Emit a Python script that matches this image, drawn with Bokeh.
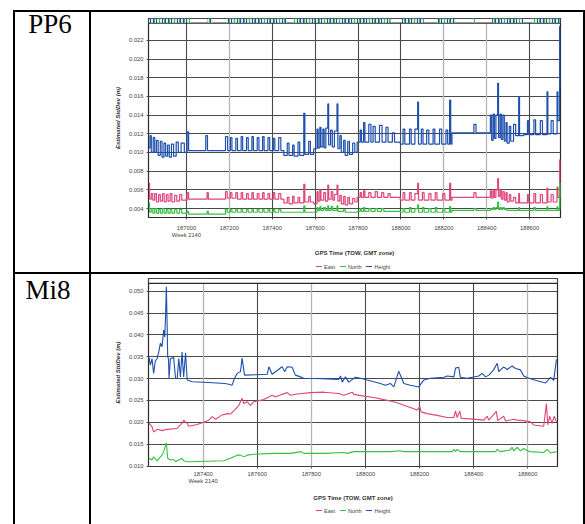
from bokeh.plotting import figure
from bokeh.models import Div, FixedTicker, PrintfTickFormatter, Range1d, Grid
from bokeh.layouts import column, row
from bokeh.embed import file_html
from bokeh.resources import INLINE

# ---------------- data: PP6 ----------------
pp6_xticks = [187000, 187200, 187400, 187600, 187800, 188000, 188200, 188400, 188600]
pp6_yticks = [0.004, 0.006, 0.008, 0.010, 0.012, 0.014, 0.016, 0.018, 0.020, 0.022]

pp6_height_t = [186824, 186830, 186836, 186845, 186852, 186860, 186868, 186878, 186886, 186895,
                186903, 186912, 186920, 186930, 186940, 186952, 186962, 186975, 186990, 187003,
                187010, 187090, 187098, 187182, 187192, 187205, 187212, 187230, 187238, 187255,
                187262, 187280, 187288, 187305, 187312, 187330, 187338, 187355, 187362, 187380,
                187388, 187405, 187412, 187430, 187440, 187454, 187470, 187478, 187495, 187502,
                187520, 187528, 187547, 187552, 187570, 187578, 187593, 187609, 187614, 187622,
                187627, 187636, 187642, 187650, 187659, 187663, 187672, 187680, 187690, 187702,
                187706, 187715, 187722, 187733, 187740, 187752, 187760, 187775, 187785, 187796,
                187810, 187816, 187826, 187832, 187850, 187860, 187870, 187880, 187900, 187912,
                187930, 187940, 187960, 187970, 187997, 188010, 188018, 188040, 188048, 188065,
                188078, 188082, 188095, 188103, 188120, 188130, 188150, 188158, 188180, 188190,
                188210, 188218, 188227, 188232, 188238, 188340, 188350, 188417, 188423, 188430,
                188436, 188443, 188451, 188455, 188462, 188468, 188475, 188482, 188490, 188495,
                188505, 188512, 188525, 188535, 188549, 188553, 188572, 188590, 188596, 188620,
                188628, 188650, 188660, 188681, 188685, 188700, 188710, 188728, 188732, 188740,
                188743]
pp6_height_v = [0.0105, 0.0118, 0.0100, 0.0116, 0.0100, 0.0113, 0.0097, 0.0112, 0.0095, 0.0110,
                0.0096, 0.0108, 0.0095, 0.0109, 0.0096, 0.0111, 0.0100, 0.0110, 0.0100, 0.0122,
                0.0102, 0.0118, 0.0102, 0.0117, 0.0102, 0.0116, 0.0102, 0.0115, 0.0102, 0.0117,
                0.0102, 0.0116, 0.0102, 0.0117, 0.0102, 0.0116, 0.0102, 0.0117, 0.0102, 0.0116,
                0.0102, 0.0115, 0.0102, 0.0116, 0.0102, 0.0097, 0.0110, 0.0097, 0.0108, 0.0096,
                0.0111, 0.0097, 0.0142, 0.0098, 0.0112, 0.0098, 0.0104, 0.0125, 0.0105, 0.0127,
                0.0106, 0.0125, 0.0105, 0.0126, 0.0152, 0.0108, 0.0124, 0.0106, 0.0123, 0.0152,
                0.0104, 0.0118, 0.0100, 0.0113, 0.0097, 0.0112, 0.0098, 0.0110, 0.0100, 0.0111,
                0.0124, 0.0111, 0.0132, 0.0111, 0.0130, 0.0111, 0.0128, 0.0111, 0.0129, 0.0111,
                0.0127, 0.0111, 0.0121, 0.0111, 0.0109, 0.0125, 0.0109, 0.0125, 0.0109, 0.0125,
                0.0154, 0.0109, 0.0125, 0.0109, 0.0124, 0.0109, 0.0125, 0.0109, 0.0125, 0.0109,
                0.0124, 0.0109, 0.0156, 0.0109, 0.0121, 0.0130, 0.0121, 0.0140, 0.0113, 0.0141,
                0.0115, 0.0140, 0.0174, 0.0116, 0.0141, 0.0114, 0.0140, 0.0112, 0.0132, 0.0110,
                0.0128, 0.0112, 0.0130, 0.0118, 0.0159, 0.0118, 0.0119, 0.0134, 0.0119, 0.0135,
                0.0119, 0.0134, 0.0119, 0.0165, 0.0120, 0.0134, 0.0120, 0.0165, 0.0134, 0.0235,
                0.0170]

pp6_east_t = [186824, 186828, 186836, 186843, 186852, 186860, 186870, 186878, 186888, 186896,
              186906, 186914, 186924, 186932, 186945, 186955, 186968, 186978, 187003, 187010,
              187096, 187102, 187182, 187190, 187205, 187212, 187230, 187238, 187255, 187262,
              187280, 187288, 187305, 187312, 187330, 187338, 187355, 187362, 187380, 187388,
              187405, 187412, 187430, 187440, 187454, 187470, 187478, 187495, 187502, 187520,
              187528, 187547, 187552, 187570, 187578, 187593, 187609, 187614, 187622, 187627,
              187640, 187648, 187659, 187663, 187675, 187682, 187690, 187702, 187706, 187715,
              187722, 187733, 187740, 187752, 187760, 187775, 187785, 187796, 187810, 187816,
              187826, 187832, 187850, 187860, 187880, 187890, 187910, 187920, 187940, 187950,
              187997, 188010, 188018, 188040, 188048, 188065, 188078, 188082, 188100, 188108,
              188130, 188140, 188160, 188168, 188195, 188205, 188227, 188232, 188238, 188340,
              188350, 188417, 188423, 188430, 188436, 188443, 188451, 188455, 188462, 188468,
              188475, 188482, 188490, 188495, 188505, 188512, 188525, 188535, 188549, 188553,
              188590, 188596, 188620, 188628, 188650, 188660, 188681, 188685, 188700, 188710,
              188728, 188732, 188740, 188743]
pp6_east_v = [0.0067, 0.0050, 0.0056, 0.0049, 0.0056, 0.0047, 0.0055, 0.0048, 0.0056, 0.0047,
              0.0055, 0.0048, 0.0056, 0.0047, 0.0054, 0.0048, 0.0055, 0.0049, 0.0057, 0.0050,
              0.0057, 0.0050, 0.0058, 0.0051, 0.0057, 0.0051, 0.0057, 0.0050, 0.0057, 0.0050,
              0.0056, 0.0050, 0.0057, 0.0050, 0.0056, 0.0050, 0.0057, 0.0050, 0.0056, 0.0050,
              0.0057, 0.0050, 0.0056, 0.0050, 0.0046, 0.0052, 0.0045, 0.0053, 0.0046, 0.0052,
              0.0046, 0.0066, 0.0047, 0.0053, 0.0047, 0.0045, 0.0058, 0.0048, 0.0060, 0.0049,
              0.0057, 0.0048, 0.0065, 0.0050, 0.0058, 0.0049, 0.0055, 0.0065, 0.0048, 0.0054,
              0.0045, 0.0053, 0.0044, 0.0052, 0.0045, 0.0051, 0.0047, 0.0052, 0.0057, 0.0052,
              0.0059, 0.0052, 0.0057, 0.0052, 0.0058, 0.0052, 0.0057, 0.0052, 0.0056, 0.0052,
              0.0049, 0.0057, 0.0049, 0.0057, 0.0049, 0.0056, 0.0067, 0.0049, 0.0057, 0.0049,
              0.0056, 0.0049, 0.0057, 0.0049, 0.0056, 0.0049, 0.0067, 0.0049, 0.0052, 0.0057,
              0.0052, 0.0059, 0.0051, 0.0060, 0.0052, 0.0060, 0.0072, 0.0053, 0.0060, 0.0050,
              0.0058, 0.0049, 0.0057, 0.0047, 0.0055, 0.0048, 0.0052, 0.0046, 0.0056, 0.0046,
              0.0055, 0.0046, 0.0056, 0.0046, 0.0055, 0.0046, 0.0062, 0.0047, 0.0055, 0.0047,
              0.0063, 0.0052, 0.0092, 0.0052]

pp6_north_t = [186824, 186828, 186836, 186843, 186852, 186860, 186870, 186878, 186888, 186896,
               186906, 186914, 186924, 186932, 186945, 186955, 186968, 186978, 187003, 187010,
               187096, 187102, 187182, 187190, 187205, 187212, 187230, 187238, 187255, 187262,
               187280, 187288, 187305, 187312, 187330, 187338, 187355, 187362, 187380, 187388,
               187405, 187412, 187430, 187440, 187454, 187547, 187552, 187593, 187609, 187614,
               187622, 187627, 187640, 187648, 187659, 187663, 187675, 187682, 187702, 187706,
               187733, 187740, 187796, 187810, 187816, 187826, 187832, 187850, 187860, 187880,
               187890, 187910, 187920, 187997, 188010, 188018, 188040, 188048, 188065, 188078,
               188082, 188100, 188108, 188130, 188140, 188160, 188168, 188195, 188205, 188227,
               188232, 188238, 188340, 188350, 188417, 188423, 188430, 188436, 188443, 188451,
               188455, 188462, 188468, 188475, 188482, 188490, 188495, 188549, 188553, 188620,
               188628, 188681, 188685, 188728, 188732, 188740, 188743]
pp6_north_v = [0.0046, 0.0036, 0.0040, 0.0035, 0.0040, 0.0035, 0.0039, 0.0035, 0.0040, 0.0035,
               0.0039, 0.0035, 0.0039, 0.0035, 0.0039, 0.0035, 0.0039, 0.0035, 0.0037, 0.0034,
               0.0037, 0.0034, 0.0039, 0.0036, 0.0039, 0.0036, 0.0039, 0.0036, 0.0039, 0.0036,
               0.0039, 0.0036, 0.0039, 0.0036, 0.0039, 0.0036, 0.0039, 0.0036, 0.0039, 0.0036,
               0.0039, 0.0036, 0.0039, 0.0036, 0.0036, 0.0043, 0.0036, 0.0036, 0.0041, 0.0038,
               0.0042, 0.0038, 0.0041, 0.0038, 0.0043, 0.0038, 0.0042, 0.0038, 0.0043, 0.0037,
               0.0039, 0.0036, 0.0037, 0.0040, 0.0037, 0.0041, 0.0037, 0.0040, 0.0037, 0.0040,
               0.0037, 0.0040, 0.0037, 0.0036, 0.0040, 0.0036, 0.0041, 0.0036, 0.0040, 0.0044,
               0.0036, 0.0041, 0.0036, 0.0040, 0.0036, 0.0041, 0.0036, 0.0040, 0.0036, 0.0042,
               0.0036, 0.0038, 0.0040, 0.0038, 0.0040, 0.0039, 0.0041, 0.0039, 0.0041, 0.0047,
               0.0039, 0.0041, 0.0039, 0.0041, 0.0039, 0.0040, 0.0038, 0.0041, 0.0038, 0.0041,
               0.0038, 0.0042, 0.0038, 0.0042, 0.0038, 0.0067, 0.0040]

# satellite-availability strip along the top of the PP6 chart (time spans)
pp6_strip_start = [186829, 187099, 187186, 187497, 188005, 188168, 188336, 188425, 188611]
pp6_strip_end = [187019, 187124, 187469, 187951, 188106, 188249, 188348, 188572, 188740]

# ---------------- data: Mi8 ----------------
mi8_xticks = [187400, 187600, 187800, 188000, 188200, 188400, 188600]
mi8_yticks = [0.010, 0.015, 0.020, 0.025, 0.030, 0.035, 0.040, 0.045, 0.050]

mi8_height_t = [187199, 187205, 187211, 187217, 187223, 187230, 187236, 187242, 187248, 187254,
                187258, 187261, 187264, 187267, 187269, 187272, 187274, 187279, 187291, 187298,
                187304, 187310, 187316, 187322, 187328, 187335, 187341, 187360, 187420, 187480,
                187495, 187507, 187516, 187526, 187538, 187544, 187553, 187600, 187637, 187643,
                187655, 187692, 187701, 187711, 187729, 187741, 187760, 187772, 187840, 187901,
                187908, 187914, 187926, 187938, 187963, 187982, 188006, 188031, 188055, 188074,
                188092, 188105, 188123, 188142, 188166, 188197, 188216, 188240, 188290, 188302,
                188327, 188333, 188345, 188351, 188376, 188419, 188431, 188444, 188456, 188474,
                188487, 188493, 188511, 188524, 188542, 188555, 188573, 188585, 188604, 188635,
                188666, 188684, 188696, 188706]
mi8_height_v = [0.0351, 0.0331, 0.0346, 0.0312, 0.0340, 0.0346, 0.0361, 0.0381, 0.0373, 0.0411,
                0.0395, 0.0441, 0.0510, 0.0420, 0.0350, 0.0345, 0.0301, 0.0346, 0.0348, 0.0301,
                0.0300, 0.0346, 0.0304, 0.0361, 0.0304, 0.0359, 0.0297, 0.0293, 0.0291, 0.0289,
                0.0287, 0.0285, 0.0301, 0.0312, 0.0316, 0.0347, 0.0308, 0.0309, 0.0310, 0.0327,
                0.0310, 0.0327, 0.0316, 0.0327, 0.0326, 0.0308, 0.0304, 0.0301, 0.0300, 0.0298,
                0.0306, 0.0292, 0.0304, 0.0292, 0.0303, 0.0301, 0.0297, 0.0293, 0.0289, 0.0285,
                0.0289, 0.0281, 0.0317, 0.0289, 0.0285, 0.0281, 0.0297, 0.0301, 0.0303, 0.0306,
                0.0304, 0.0324, 0.0326, 0.0303, 0.0301, 0.0306, 0.0312, 0.0304, 0.0308, 0.0320,
                0.0335, 0.0316, 0.0327, 0.0321, 0.0329, 0.0323, 0.0320, 0.0306, 0.0301, 0.0295,
                0.0290, 0.0303, 0.0296, 0.0344]

mi8_east_t = [187199, 187211, 187217, 187230, 187248, 187267, 187304, 187322, 187328, 187341,
              187347, 187378, 187402, 187421, 187433, 187446, 187470, 187489, 187501, 187516,
              187532, 187544, 187550, 187563, 187575, 187587, 187600, 187624, 187643, 187655,
              187667, 187692, 187711, 187723, 187748, 187797, 187846, 187902, 187920, 187951,
              187957, 187994, 188031, 188068, 188092, 188117, 188142, 188166, 188191, 188201,
              188206, 188228, 188265, 188302, 188327, 188333, 188339, 188349, 188354, 188388,
              188438, 188450, 188456, 188484, 188489, 188511, 188518, 188548, 188561, 188585,
              188610, 188622, 188659, 188669, 188674, 188681, 188690, 188698, 188706]
mi8_east_v = [0.0198, 0.0190, 0.0178, 0.0184, 0.0181, 0.0184, 0.0186, 0.0198, 0.0205, 0.0198,
              0.0191, 0.0195, 0.0200, 0.0205, 0.0213, 0.0207, 0.0217, 0.0220, 0.0219, 0.0228,
              0.0239, 0.0255, 0.0243, 0.0247, 0.0239, 0.0247, 0.0249, 0.0252, 0.0258, 0.0262,
              0.0258, 0.0264, 0.0268, 0.0262, 0.0265, 0.0268, 0.0269, 0.0266, 0.0262, 0.0269,
              0.0264, 0.0260, 0.0257, 0.0252, 0.0249, 0.0245, 0.0239, 0.0234, 0.0228, 0.0236,
              0.0224, 0.0220, 0.0216, 0.0211, 0.0211, 0.0226, 0.0211, 0.0226, 0.0209, 0.0208,
              0.0205, 0.0214, 0.0205, 0.0225, 0.0204, 0.0214, 0.0203, 0.0207, 0.0205, 0.0204,
              0.0201, 0.0194, 0.0191, 0.0243, 0.0194, 0.0214, 0.0198, 0.0214, 0.0201]

mi8_north_t = [187199, 187211, 187217, 187230, 187242, 187248, 187254, 187264, 187269, 187279,
               187291, 187298, 187310, 187322, 187328, 187341, 187353, 187476, 187501, 187513,
               187526, 187538, 187550, 187563, 187587, 187661, 187723, 187762, 187772, 187846,
               187920, 187932, 187957, 188092, 188129, 188142, 188216, 188321, 188327, 188333,
               188339, 188351, 188481, 188487, 188499, 188536, 188542, 188548, 188561, 188573,
               188585, 188598, 188610, 188659, 188672, 188684, 188706]
mi8_north_v = [0.0118, 0.0114, 0.0121, 0.0112, 0.0121, 0.0125, 0.0133, 0.0153, 0.0118, 0.0114,
               0.0115, 0.0110, 0.0114, 0.0118, 0.0112, 0.0110, 0.0110, 0.0112, 0.0118, 0.0121,
               0.0125, 0.0125, 0.0121, 0.0125, 0.0127, 0.0129, 0.0129, 0.0133, 0.0129, 0.0129,
               0.0131, 0.0129, 0.0133, 0.0133, 0.0135, 0.0133, 0.0133, 0.0133, 0.0138, 0.0133,
               0.0138, 0.0133, 0.0133, 0.0138, 0.0133, 0.0137, 0.0143, 0.0135, 0.0143, 0.0135,
               0.0140, 0.0135, 0.0133, 0.0131, 0.0138, 0.0130, 0.0133]

series_names = ["East", "North", "Height"]
week_label = "Week 2140"
x_title = "GPS Time (TOW, GMT zone)"
y_title = "Estimated StdDev (m)"

EAST_C = "#e0457b"
NORTH_C = "#35c241"
HEIGHT_C = "#1d4fae"
SERIES_COLORS = [EAST_C, NORTH_C, HEIGHT_C]
FONT = "Liberation Sans"

# vertical grid lines that appear faded in the source image (style only)
pp6_faded_grid = [187200, 188200, 188400]
mi8_faded_grid = [187400, 187800, 188600]


def build_chart(w, h, xr, yr, xticks, yticks, faded, week_tick, mb, tick_standoff, xlab_standoff,
                strip_lo, strip_l, strip_r, series, step):
    p = figure(width=w, height=h, x_range=Range1d(*xr), y_range=Range1d(*yr),
               output_backend="svg", toolbar_location=None,
               min_border_left=mb[0], min_border_right=mb[1],
               min_border_top=mb[2], min_border_bottom=mb[3])
    p.background_fill_color = "white"
    p.border_fill_color = "white"
    p.outline_line_color = "#2a2a2a"
    p.outline_line_width = 1.2
    p.xgrid.ticker = FixedTicker(ticks=[t for t in xticks if t not in faded])
    p.ygrid.ticker = FixedTicker(ticks=yticks)
    p.grid.grid_line_color = "#4a4a4a"
    p.grid.grid_line_width = 1.1
    p.add_layout(Grid(dimension=0, ticker=FixedTicker(ticks=faded),
                      grid_line_color="#b4b4b4", grid_line_width=1.3))

    # top strip
    p.quad(left=[xr[0]], right=[xr[1]], bottom=[strip_lo], top=[yr[1]],
           fill_color="white", line_color="#2a2a2a", line_width=1.2)
    if strip_l:
        p.quad(left=strip_l, right=strip_r, bottom=strip_lo, top=yr[1],
               fill_color="#cfe3e8", fill_alpha=0.6, line_alpha=0,
               hatch_pattern="|", hatch_color=HEIGHT_C, hatch_scale=3, hatch_weight=1)
        p.quad(left=strip_l, right=strip_r, bottom=strip_lo, top=yr[1],
               fill_alpha=0, line_alpha=0,
               hatch_pattern="|", hatch_color=NORTH_C, hatch_scale=5, hatch_weight=1)

    for (t, v), col in zip(series, SERIES_COLORS):
        if step:
            p.step(x=t, y=v, mode="after", line_color=col, line_width=1.2)
        else:
            p.line(x=t, y=v, line_color=col, line_width=1.1)

    xa = p.xaxis[0]
    xa.ticker = FixedTicker(ticks=xticks)
    xa.formatter = PrintfTickFormatter(format="%d")
    xa.major_label_overrides = {week_tick: f"{week_tick}\n{week_label}"}
    xa.axis_label = x_title
    xa.axis_label_text_font = FONT
    xa.axis_label_text_font_size = "6px"
    xa.axis_label_text_font_style = "bold"
    xa.axis_label_text_color = "#333333"
    xa.axis_label_standoff = xlab_standoff
    xa.major_label_text_font = FONT
    xa.major_label_text_font_size = "5.8px"
    xa.major_label_text_color = "#444444"
    xa.major_label_standoff = tick_standoff
    xa.major_tick_out = 2
    xa.major_tick_in = 0
    xa.minor_tick_out = 0
    xa.minor_tick_in = 0
    xa.major_tick_line_color = "#555555"
    xa.axis_line_color = None

    ya = p.yaxis[0]
    ya.ticker = FixedTicker(ticks=yticks)
    ya.formatter = PrintfTickFormatter(format="%.3f")
    ya.axis_label = y_title
    ya.axis_label_text_font = FONT
    ya.axis_label_text_font_size = "6px"
    ya.axis_label_text_font_style = "bold italic"
    ya.axis_label_text_color = "#333333"
    ya.axis_label_standoff = 5
    ya.major_label_text_font = FONT
    ya.major_label_text_font_size = "5.8px"
    ya.major_label_text_color = "#444444"
    ya.major_label_standoff = 3
    ya.major_tick_out = 2
    ya.major_tick_in = 0
    ya.minor_tick_out = 0
    ya.minor_tick_in = 0
    ya.major_tick_line_color = "#555555"
    ya.axis_line_color = None
    return p


def legend_div(w, h, left, top):
    items = "".join(
        f'<span style="display:inline-block;width:6px;height:1.4px;background:{c};'
        f'vertical-align:middle;margin-right:2px"></span>'
        f'<span style="margin-right:5px;vertical-align:middle">{n}</span>'
        for n, c in zip(series_names, SERIES_COLORS))
    html = (f'<div style="position:relative;left:{left}px;top:{top}px;white-space:nowrap;'
            f'font-family:\'Liberation Sans\';font-size:5.5px;line-height:6px;color:#444444">{items}</div>')
    return Div(text=html, width=w, height=h, margin=0)


p1 = build_chart(492, 248, (186823, 188744), (0.00304, 0.02434), pp6_xticks, pp6_yticks,
                 pp6_faded_grid, 187000, (57, 23, 6, 43), 5, 9, 0.02385,
                 pp6_strip_start, pp6_strip_end,
                 [(pp6_east_t, pp6_east_v), (pp6_north_t, pp6_north_v), (pp6_height_t, pp6_height_v)],
                 True)
p2 = build_chart(492, 229, (187198, 188710), (0.0099, 0.0529), mi8_xticks, mi8_yticks,
                 mi8_faded_grid, 187400, (57, 26, 4, 37), 2, 8, 0.0518,
                 [], [],
                 [(mi8_east_t, mi8_east_v), (mi8_north_t, mi8_north_v), (mi8_height_t, mi8_height_v)],
                 False)
leg1 = legend_div(492, 12, 225, -4)
leg2 = legend_div(492, 21, 225, -3)


def blk(w, h):
    return Div(text="", width=w, height=h, margin=0, styles={"background-color": "#000000"})


def cell_label(txt, w, h, top, left):
    html = f'<div style="position:relative;top:{top}px;left:{left}px">{txt}</div>'
    return Div(text=html, width=w, height=h, margin=0,
               styles={"font-family": "Liberation Serif", "font-size": "27px",
                       "line-height": "1", "text-align": "center", "color": "#000000"})


layout = column(
    row(blk(572, 2)),
    row(blk(2, 260), cell_label("PP6", 74, 260, -1, -2), blk(2, 260), column(p1, leg1), blk(2, 260)),
    row(blk(572, 2)),
    row(blk(2, 250), cell_label("Mi8", 74, 250, 3, -4), blk(2, 250), column(p2, leg2), blk(2, 250)),
    margin=(10, 0, 0, 13),
)

open("out.html", "w").write(file_html(layout, INLINE))
